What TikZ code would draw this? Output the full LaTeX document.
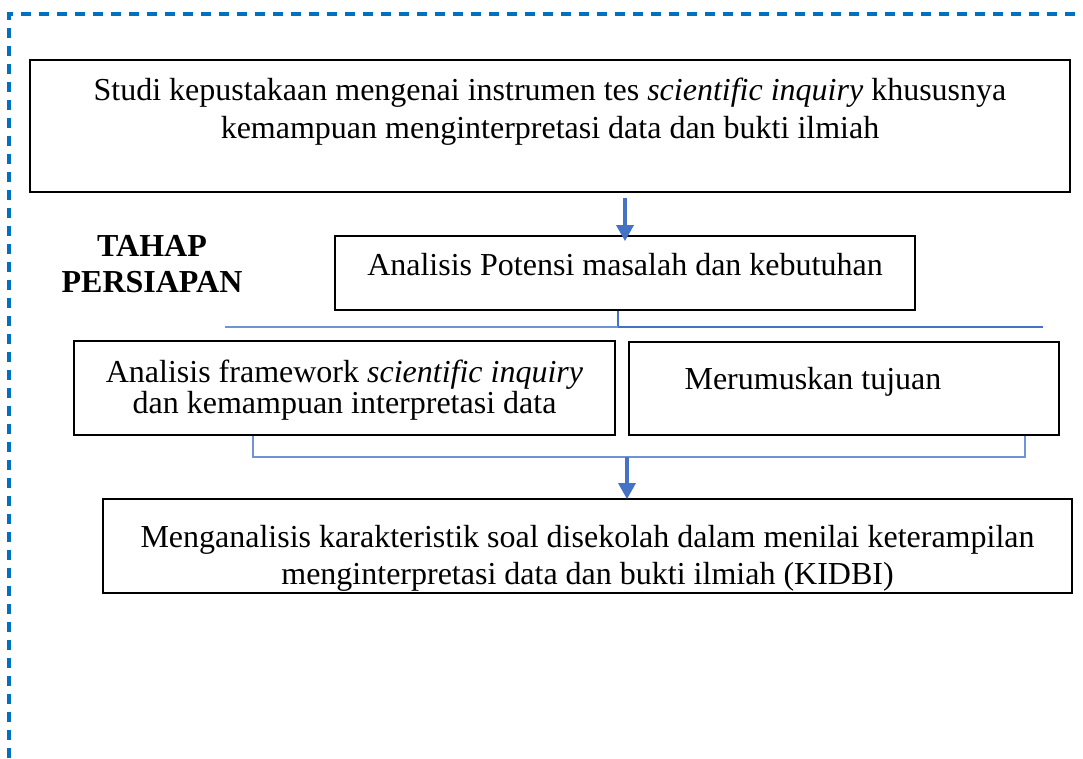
\documentclass[tikz,border=0pt]{standalone}
\usepackage{fontspec}
\setmainfont{Liberation Serif}
\usetikzlibrary{arrows.meta}
\definecolor{accent}{HTML}{4472C4}
\definecolor{linkblue}{HTML}{6F93D6}
\definecolor{frameblue}{HTML}{0070C0}
\tikzstyle{block} = [rectangle, draw, line width=1.8pt, inner sep=0pt]
\tikzstyle{stage} = [inner sep=0pt, align=center, font=\bfseries\fontsize{32}{36}\selectfont]
\tikzstyle{line} = [draw, accent, line width=3.3pt, -{Triangle[length=16pt,width=17pt]}]
\tikzstyle{link} = [draw, linkblue, line width=1.3pt]
\tikzstyle{linkmain} = [draw, accent, line width=1.9pt]
\tikzstyle{outline} = [draw, frameblue, line width=3.2pt, dash pattern=on 10pt off 8pt]
% width, height, top gap, line skip, text
\newcommand{\boxtxt}[5]{\parbox[c][#2][t]{#1}{\fontsize{32}{#4}\selectfont\centering\vspace*{#3}#5}}

\begin{document}
\begin{tikzpicture}[x=1pt, y=-1pt]
        \useasboundingbox (0,0) rectangle (1083,758);
        % Dashed frame
        \path [outline] (9,758) -- (9,14) -- (1083,14);
        % Place nodes
        \node [block] (studi) at (550,126) {\boxtxt{1040pt}{132pt}{18pt}{38pt}{Studi kepustakaan mengenai instrumen tes \textit{scientific inquiry} khususnya\\ kemampuan menginterpretasi data dan bukti ilmiah}};
        \node [block] (potensi) at (625,273) {\boxtxt{580pt}{74pt}{17pt}{36pt}{Analisis Potensi masalah dan kebutuhan}};
        \node [stage, anchor=north] (tahap) at (152,235) {TAHAP\\PERSIAPAN};
        \node [block] (framework) at (344.5,388) {\boxtxt{541pt}{94pt}{19pt}{31pt}{Analisis framework \textit{scientific inquiry}\\ dan kemampuan interpretasi data}};
        \node [block] (tujuan) at (844,388.5) {\boxtxt{430pt}{93pt}{25pt}{36pt}{\hspace*{-62pt}Merumuskan tujuan}};
        \node [block] (kidbi) at (587.5,546) {\boxtxt{969pt}{94pt}{26pt}{37pt}{Menganalisis karakteristik soal disekolah dalam menilai keterampilan\\ menginterpretasi data dan bukti ilmiah (KIDBI)}};
        % Split and merge points
        \coordinate (splitM) at (618,327);
        \coordinate (splitL) at (225,327);
        \coordinate (splitR) at (1043,327);
        \coordinate (mergeL) at (253,457);
        \coordinate (mergeM) at (627,457);
        \coordinate (mergeR) at (1025,457);
        % Draw edges
        \path [line, shorten <=5pt] (studi.south -| potensi.north) -- ([yshift=-6pt]potensi.north);
        \path [linkmain] (potensi.south -| splitM) -- (splitM) -- (splitR);
        \path [link] (splitM) -- (splitL);
        \path [link] (framework.south -| mergeL) -- (mergeL) -- (mergeR) -- (tujuan.south -| mergeR);
        \path [line] (mergeM) -- ([yshift=-1pt]mergeM |- kidbi.north);
    \end{tikzpicture}
\end{document}
